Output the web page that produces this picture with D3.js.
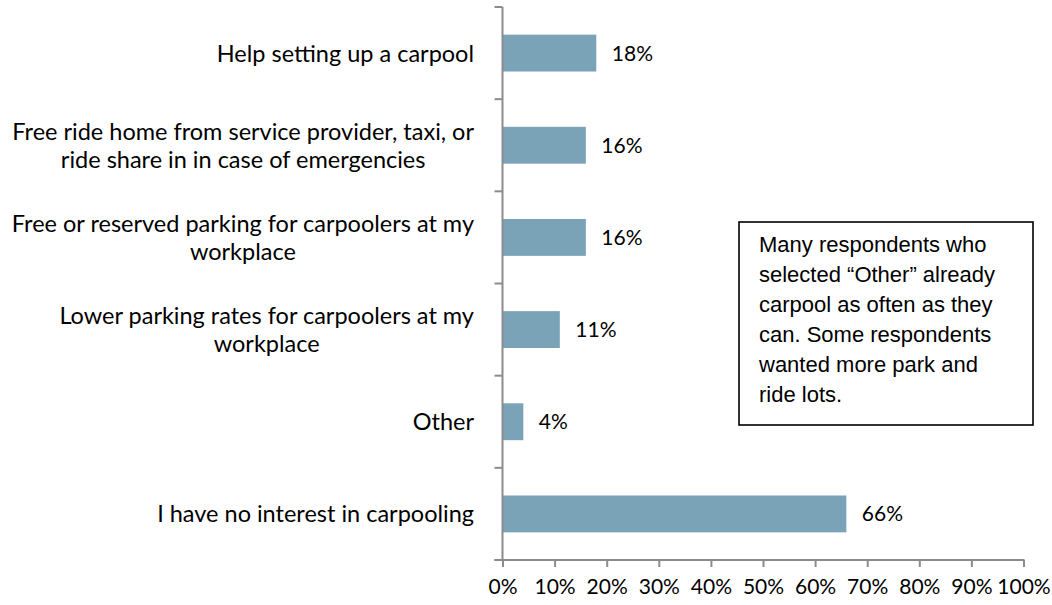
<!DOCTYPE html>
<html>
<head>
<meta charset="utf-8">
<script src="https://cdn.jsdelivr.net/npm/d3@7"></script>
<style>
  html, body { margin: 0; padding: 0; background: #fff; }
  svg { display: block; }
</style>
</head>
<body>
<svg id="chart" width="1052" height="605"></svg>
<script>
// Survey answers, top to bottom; each label may wrap over several lines
const categories = [
  ["Help setting up a carpool"],
  ["Free ride home from service provider, taxi, or", "ride share in in case of emergencies"],
  ["Free or reserved parking for carpoolers at my", "workplace"],
  ["Lower parking rates for carpoolers at my", "workplace"],
  ["Other"],
  ["I have no interest in carpooling"]
];
const values = [0.18, 0.16, 0.16, 0.11, 0.04, 0.66];
const xTicks = [0, 0.1, 0.2, 0.3, 0.4, 0.5, 0.6, 0.7, 0.8, 0.9, 1.0];
const noteLines = [
  "Many respondents who",
  "selected \u201cOther\u201d already",
  "carpool as often as they",
  "can. Some respondents",
  "wanted more park and",
  "ride lots."
];

(function draw() {
  const svg = d3.select("#chart");
  const labelFont = "Lato, 'Open Sans', sans-serif";
  const axisColor = "#8c8c8c";
  const barColor = "#7aa3b8";

  const plotLeft = 502.5, plotRight = 1023.5, plotTop = 7, plotBottom = 560;
  const keys = categories.map((c, i) => i);

  const x = d3.scaleLinear().domain([0, 1]).range([plotLeft, plotRight]);
  const y = d3.scaleBand().domain(keys).range([plotTop, plotBottom])
    .paddingInner(0.6).paddingOuter(0.3);

  // Bars
  svg.append("g").selectAll("rect").data(values).join("rect")
    .attr("x", x(0))
    .attr("y", (d, i) => y(i))
    .attr("width", d => x(d) - x(0))
    .attr("height", y.bandwidth())
    .attr("fill", barColor);

  // Value labels
  svg.append("g").selectAll("text").data(values).join("text")
    .attr("x", d => x(d) + 15.5)
    .attr("y", (d, i) => y(i) + y.bandwidth() / 2)
    .attr("dy", "0.36em")
    .attr("font-family", labelFont)
    .attr("font-size", 21)
    .attr("fill", "#000")
    .text(d => d3.format(".0%")(d));

  // X axis
  const xAxis = svg.append("g")
    .attr("transform", `translate(0,${plotBottom})`)
    .call(d3.axisBottom(x).tickValues(xTicks).tickFormat(d3.format(".0%"))
      .tickSizeOuter(0).tickSize(7).tickPadding(12));
  xAxis.select(".domain").remove();
  xAxis.selectAll(".tick line").attr("stroke", axisColor).attr("stroke-width", 2);
  xAxis.selectAll(".tick text").attr("font-family", labelFont).attr("font-size", 21).attr("fill", "#000");
  svg.append("line")
    .attr("x1", plotLeft - 8).attr("x2", plotRight + 1)
    .attr("y1", plotBottom).attr("y2", plotBottom)
    .attr("stroke", axisColor).attr("stroke-width", 2);

  // Y axis line and category boundary ticks
  svg.append("line")
    .attr("x1", plotLeft).attr("x2", plotLeft)
    .attr("y1", plotTop).attr("y2", plotBottom)
    .attr("stroke", axisColor).attr("stroke-width", 2);
  svg.append("g").selectAll("line").data(d3.range(categories.length + 1)).join("line")
    .attr("x1", plotLeft - 8).attr("x2", plotLeft)
    .attr("y1", i => plotTop + i * y.step())
    .attr("y2", i => plotTop + i * y.step())
    .attr("stroke", axisColor).attr("stroke-width", 2);

  // Category labels: centered lines, block right-aligned against the axis
  const labelRight = 474, lineH = 28;
  const catG = svg.append("g");
  categories.forEach((lines, i) => {
    const g = catG.append("g");
    const cy = y(i) + y.bandwidth() / 2;
    const texts = lines.map((t, j) => g.append("text")
      .attr("y", cy + (j - (lines.length - 1) / 2) * lineH)
      .attr("dy", "0.36em")
      .attr("text-anchor", "middle")
      .attr("font-family", labelFont)
      .attr("font-size", 23.5)
      .attr("fill", "#000")
      .text(t));
    const maxW = d3.max(texts, t => t.node().getComputedTextLength());
    texts.forEach(t => t.attr("x", labelRight - maxW / 2));
  });

  // Note box
  const box = { x: 739, y: 222, w: 294, h: 203 };
  svg.append("rect")
    .attr("x", box.x).attr("y", box.y)
    .attr("width", box.w).attr("height", box.h)
    .attr("fill", "#fff").attr("stroke", "#000").attr("stroke-width", 1.6);
  svg.append("g").selectAll("text").data(noteLines).join("text")
    .attr("x", box.x + 20)
    .attr("y", (d, i) => box.y + 30 + i * 30)
    .attr("font-family", "'Liberation Sans', Arial, sans-serif")
    .attr("font-size", 22)
    .attr("fill", "#000")
    .text(d => d);
})();
</script>
</body>
</html>
